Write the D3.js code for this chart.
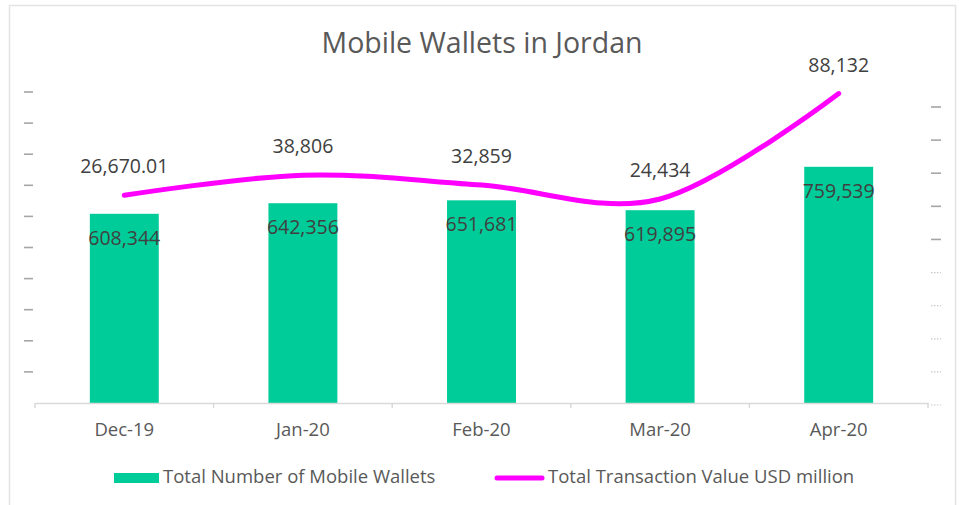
<!DOCTYPE html>
<html>
<head>
<meta charset="utf-8">
<script src="https://cdn.jsdelivr.net/npm/d3@7"></script>
<style>
  html, body { margin: 0; padding: 0; background: #ffffff; }
  svg { display: block; }
  text { font-family: "Open Sans", "Noto Sans", sans-serif; }
</style>
</head>
<body>
<svg id="chart" width="959" height="505"></svg>
<script>
// ---- data ----
const title = "Mobile Wallets in Jordan";
const categories = ["Dec-19", "Jan-20", "Feb-20", "Mar-20", "Apr-20"];
const wallets = [608344, 642356, 651681, 619895, 759539];
const walletLabels = ["608,344", "642,356", "651,681", "619,895", "759,539"];
const transactions = [26670.01, 38806, 32859, 24434, 88132];
const transactionLabels = ["26,670.01", "38,806", "32,859", "24,434", "88,132"];
const seriesNames = ["Total Number of Mobile Wallets", "Total Transaction Value USD million"];
const leftDomain = [0, 1000000];
const rightDomain = [-100000, 80000];

// ---- styles ----
const barColor = "#00CC99";
const lineColor = "#FF00FF";
const gridGray = "#d9d9d9";

const svg = d3.select("#chart");

// frame
svg.append("rect")
  .attr("x", 9.5).attr("y", 5.5)
  .attr("width", 946).attr("height", 520)
  .attr("fill", "none").attr("stroke", "#e3e3e3").attr("stroke-width", 1.5);

const plotLeft = 35, plotRight = 928, plotBottom = 403;

const x = d3.scaleBand()
  .domain(categories)
  .range([plotLeft, plotRight])
  .paddingInner(0.614)
  .paddingOuter(0.307);

const xSlot = d3.scaleBand().domain(categories).range([plotLeft, plotRight]).padding(0);

const yL = d3.scaleLinear().domain(leftDomain).range([plotBottom, 92]);
const yR = d3.scaleLinear().domain(rightDomain).range([405, 107]);

// title
svg.append("text")
  .attr("x", 482).attr("y", 53)
  .attr("text-anchor", "middle")
  .attr("font-size", 28.5)
  .attr("fill", "#595959")
  .text(title);

// left axis tick "labels" (rendered as short dashes)
svg.append("g").selectAll("line")
  .data(yL.ticks(10).filter(d => d > 0))
  .join("line")
  .attr("x1", 24).attr("x2", 33)
  .attr("y1", d => yL(d)).attr("y2", d => yL(d))
  .attr("stroke", "#a6a6a6").attr("stroke-width", 1.6);

// right axis tick "labels"
const rTicks = d3.range(rightDomain[0], rightDomain[1] + 1, 20000);
svg.append("g").selectAll("line")
  .data(rTicks)
  .join("line")
  .attr("x1", 931).attr("x2", 941)
  .attr("y1", d => yR(d)).attr("y2", d => yR(d))
  .attr("stroke", d => d >= 0 ? "#a6a6a6" : "#c8c8c8")
  .attr("stroke-width", d => d >= 0 ? 1.6 : 1.2)
  .attr("stroke-dasharray", d => d >= 0 ? null : "1.5,1.5");

// bars
svg.append("g").selectAll("rect")
  .data(wallets)
  .join("rect")
  .attr("x", (d, i) => x(categories[i]))
  .attr("width", x.bandwidth())
  .attr("y", d => yL(d))
  .attr("height", d => yL(0) - yL(d))
  .attr("fill", barColor);

// x axis
const xAxis = svg.append("g")
  .attr("transform", `translate(0,${plotBottom})`)
  .call(d3.axisBottom(xSlot).tickSize(0).tickPadding(20).tickSizeOuter(0));
xAxis.select(".domain").attr("stroke", gridGray).attr("stroke-width", 1.5);
xAxis.selectAll("text")
  .attr("font-size", 18.5)
  .attr("font-family", "'Open Sans', sans-serif")
  .attr("fill", "#595959");
// category boundary ticks
svg.append("g").selectAll("line")
  .data(categories.concat(["_end"]))
  .join("line")
  .attr("x1", (d, i) => i < categories.length ? xSlot(d) : plotRight)
  .attr("x2", (d, i) => i < categories.length ? xSlot(d) : plotRight)
  .attr("y1", plotBottom).attr("y2", plotBottom + 5)
  .attr("stroke", gridGray).attr("stroke-width", 1.5);

// bar labels
svg.append("g").selectAll("text")
  .data(walletLabels)
  .join("text")
  .attr("x", (d, i) => x(categories[i]) + x.bandwidth() / 2)
  .attr("y", (d, i) => yL(wallets[i]) + 31)
  .attr("text-anchor", "middle")
  .attr("font-size", 19.5)
  .attr("fill", "#404040")
  .text(d => d);

// line
const cx = i => xSlot(categories[i]) + xSlot.bandwidth() / 2;
const line = d3.line()
  .x((d, i) => cx(i))
  .y(d => yR(d))
  .curve(d3.curveCardinal.tension(0));
svg.append("path")
  .datum(transactions)
  .attr("d", line)
  .attr("fill", "none")
  .attr("stroke", lineColor)
  .attr("stroke-width", 5)
  .attr("stroke-linecap", "round");

// line labels
svg.append("g").selectAll("text")
  .data(transactionLabels)
  .join("text")
  .attr("x", (d, i) => cx(i))
  .attr("y", (d, i) => yR(transactions[i]) - 22)
  .attr("text-anchor", "middle")
  .attr("font-size", 19.5)
  .attr("fill", "#404040")
  .text(d => d);

// legend
const lg = svg.append("g");
lg.append("rect")
  .attr("x", 114).attr("y", 473).attr("width", 45).attr("height", 10)
  .attr("fill", barColor);
lg.append("text")
  .attr("x", 163).attr("y", 483)
  .attr("font-size", 18.5)
  .attr("fill", "#595959")
  .text(seriesNames[0]);
lg.append("line")
  .attr("x1", 497).attr("x2", 542).attr("y1", 478).attr("y2", 478)
  .attr("stroke", lineColor).attr("stroke-width", 5).attr("stroke-linecap", "round");
lg.append("text")
  .attr("x", 548).attr("y", 483)
  .attr("font-size", 18.5)
  .attr("fill", "#595959")
  .text(seriesNames[1]);
</script>
</body>
</html>
